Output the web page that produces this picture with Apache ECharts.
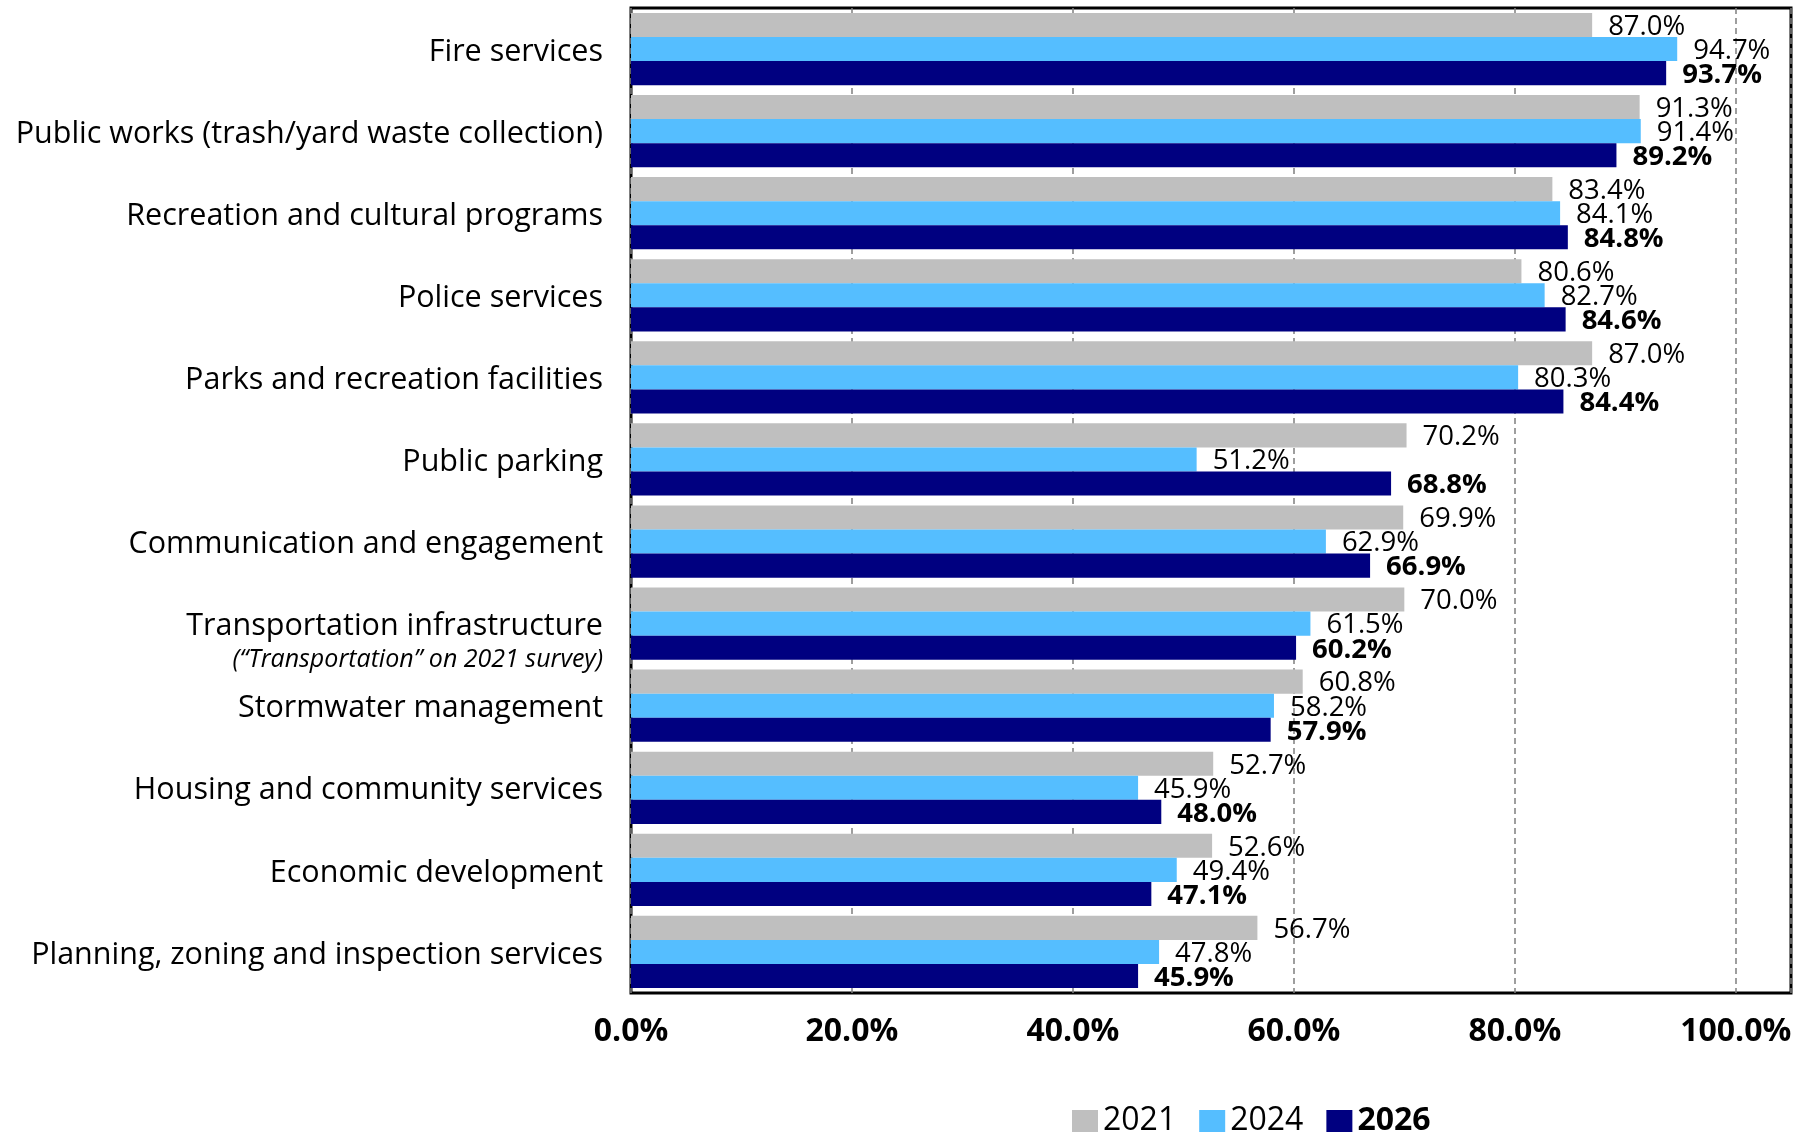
<!DOCTYPE html>
<html>
<head>
<meta charset="utf-8">
<style>
  html, body { margin: 0; padding: 0; background: #ffffff; }
  #chart { width: 1807px; height: 1134px; }
</style>
<script src="https://cdn.jsdelivr.net/npm/echarts@6/dist/echarts.min.js"></script>
</head>
<body>
<div id="chart"></div>
<script>
const categories = [
  'Fire services',
  'Public works (trash/yard waste collection)',
  'Recreation and cultural programs',
  'Police services',
  'Parks and recreation facilities',
  'Public parking',
  'Communication and engagement',
  'Transportation infrastructure',
  'Stormwater management',
  'Housing and community services',
  'Economic development',
  'Planning, zoning and inspection services'
];
const transportationNote = '(\u201CTransportation\u201D on 2021 survey)';
const seriesNames = ['2021', '2024', '2026'];
const values2021 = [87.0, 91.3, 83.4, 80.6, 87.0, 70.2, 69.9, 70.0, 60.8, 52.7, 52.6, 56.7];
const values2024 = [94.7, 91.4, 84.1, 82.7, 80.3, 51.2, 62.9, 61.5, 58.2, 45.9, 49.4, 47.8];
const values2026 = [93.7, 89.2, 84.8, 84.6, 84.4, 68.8, 66.9, 60.2, 57.9, 48.0, 47.1, 45.9];
const xTicks = [0, 20, 40, 60, 80, 100];

const FONT = '"Open Sans"';
const colors = ['#BFBFBF', '#55BEFF', '#000080'];
const seriesData = [values2021, values2024, values2026];

const chart = echarts.init(document.getElementById('chart'), null, { renderer: 'canvas' });

const option = {
  animation: false,
  backgroundColor: '#ffffff',
  textStyle: { fontFamily: FONT },
  grid: {
    left: 631, top: 8, right: 16, bottom: 141,
    show: true, borderColor: '#000000', borderWidth: 3, backgroundColor: 'transparent',
    containLabel: false
  },
  legend: {
    left: 1067, top: 1100,
    itemWidth: 26, itemHeight: 22, itemGap: 23,
    icon: 'rect',
    data: seriesNames,
    formatter: function (name) { return name === '2026' ? '{b|' + name + '}' : '{n|' + name + '}'; },
    textStyle: {
      fontFamily: FONT, color: '#000', padding: [0, 0, 0, 0],
      rich: {
        n: { fontFamily: FONT, fontSize: 32, color: '#000' },
        b: { fontFamily: FONT, fontSize: 32, fontWeight: 'bold', color: '#000' }
      }
    }
  },
  xAxis: {
    type: 'value',
    min: 0, max: 105, interval: 20,
    axisLine: { show: false },
    axisTick: { show: false },
    axisLabel: {
      margin: 23,
      fontFamily: FONT, fontSize: 32, fontWeight: 'bold', color: '#000',
      formatter: function (v) { return xTicks.indexOf(v) >= 0 ? v.toFixed(1) + '%' : ''; }
    },
    splitLine: { show: true, lineStyle: { color: '#7f7f7f', width: 1.5, type: [6, 4] } }
  },
  yAxis: {
    type: 'category',
    inverse: true,
    data: categories,
    axisLine: { show: false },
    axisTick: { show: false },
    axisLabel: {
      margin: 28,
      fontFamily: FONT, fontSize: 30.5, color: '#000',
      padding: [6, 0, 0, 0],
      formatter: function (v) {
        if (v === 'Transportation infrastructure') {
          return '{e|}\n{m|' + v + '}\n{s|' + transportationNote + '}';
        }
        return v;
      },
      rich: {
        e: { fontSize: 20, lineHeight: 30 },
        m: { fontFamily: FONT, fontSize: 30.5, lineHeight: 36, color: '#000', align: 'right' },
        s: { fontFamily: FONT, fontSize: 25, fontStyle: 'italic', lineHeight: 30, color: '#000', align: 'right' }
      }
    }
  },
  series: seriesNames.map(function (name, i) {
    return {
      name: name,
      type: 'bar',
      data: seriesData[i],
      barGap: '0%',
      barCategoryGap: '12%',
      itemStyle: { color: colors[i] },
      label: {
        show: true,
        position: 'right',
        distance: 16,
        offset: [0, 2],
        fontFamily: FONT,
        fontSize: 27.5,
        fontWeight: i === 2 ? 'bold' : 'normal',
        color: '#000',
        formatter: function (p) { return p.value.toFixed(1) + '%'; }
      }
    };
  })
};
chart.setOption(option);
</script>
</body>
</html>
